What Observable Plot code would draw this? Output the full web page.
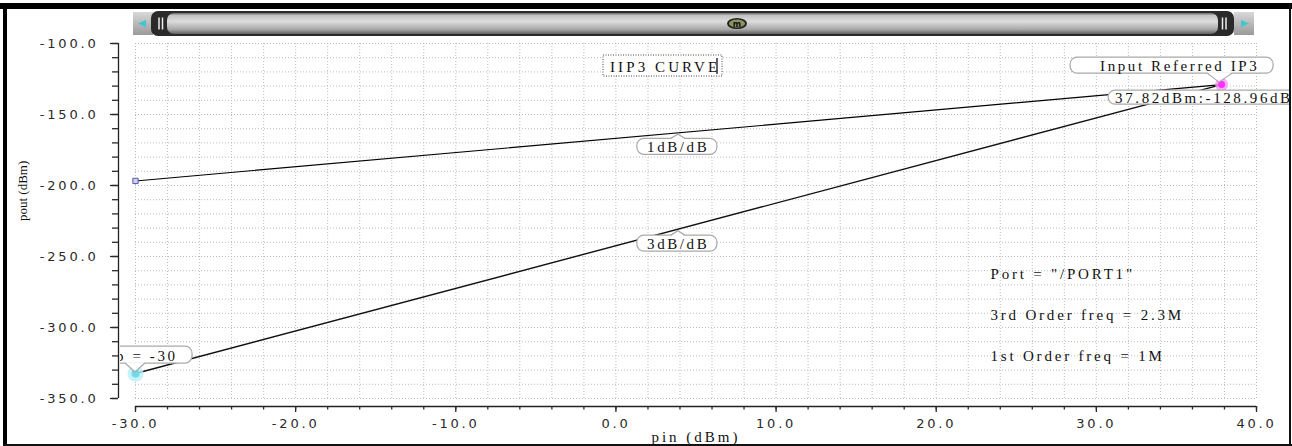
<!DOCTYPE html>
<html><head><meta charset="utf-8">
<script src="https://cdn.jsdelivr.net/npm/d3@7"></script>
<script src="https://cdn.jsdelivr.net/npm/@observablehq/plot@0.6"></script>
<style>
html,body{margin:0;padding:0;background:#fff;}
#chart{position:relative;width:1292px;height:446px;overflow:hidden;}
</style></head><body><div id="chart"></div>
<script>
// ---- data ----
const pinDbm  = [-30, 37.82];          // input power (dBm)
const pout1st = [-196.78, -128.96];    // 1st order output (1 dB/dB)
const pout3rd = [-332.42, -128.96];    // 3rd order output (3 dB/dB)
const ip3Pin = 37.82, ip3Pout = -128.96;
const xTicks = [-30, -20, -10, 0, 10, 20, 30, 40];
const xTickLabels = ["-30.0", "-20.0", "-10.0", "0.0", "10.0", "20.0", "30.0", "40.0"];
const yTicks = [-350, -300, -250, -200, -150, -100];
const yTickLabels = ["-350.0", "-300.0", "-250.0", "-200.0", "-150.0", "-100.0"];
const notes = ["Port = \"/PORT1\"", "3rd Order freq = 2.3M", "1st Order freq = 1M"];
const chartTitle = "IIP3 CURVE";
const xLabel = "pin (dBm)", yLabel = "pout (dBm)";

const xMinor = d3.range(-30, 40.001, 2);
const yMinor = d3.range(-350, -99.999, 10);
const interp = (xs, ys, x) => ys[0] + (ys[1] - ys[0]) * (x - xs[0]) / (xs[1] - xs[0]);
const slopeLabelX = 3.9;
const SERIF = "Liberation Serif";

const callouts = [
  {text: "1dB/dB", ax: slopeLabelX, ay: interp(pinDbm, pout1st, slopeLabelX), box: [-41, 6, 80, 16], ptr: "up"},
  {text: "3dB/dB", ax: slopeLabelX, ay: interp(pinDbm, pout3rd, slopeLabelX), box: [-41, 6.5, 80, 16], ptr: "up"},
  {text: "Input Referred IP3", ax: ip3Pin, ay: ip3Pout, box: [-151, -27, 203, 16], ptr: "down", pb: [-14, 11], pa: [-2, -2], anchor: "start", tdx: 30},
  {text: `${ip3Pin.toFixed(2)}dBm:${ip3Pout.toFixed(2)}dBm`, ax: ip3Pin, ay: ip3Pout, box: [-113, 6, 200, 14], ptr: null, anchor: "start", tdx: 7},
  {text: `p = ${pinDbm[0]}`, ax: pinDbm[0], ay: pout3rd[0], box: [-40, -27, 97, 17], ptr: "down", pb: [-10, 10], pa: [0, -1], anchor: "start", tdx: 21}
];

function calloutMark(index, scales, values, dim) {
  const {x, y} = scales;
  const g = d3.create("svg:g").attr("aria-label", "callouts");
  g.append("clipPath").attr("id", "callclip").append("rect")
    .attr("x", dim.marginLeft - 15).attr("y", 0).attr("width", dim.width - dim.marginLeft + 15 - 3).attr("height", dim.height);
  const gg = g.append("g").attr("clip-path", "url(#callclip)");
  for (const c of callouts) {
    const px = x(c.ax), py = y(c.ay);
    const [ox, oy, bw, bh] = c.box;
    const bx = px + ox, by = py + oy;
    gg.append("rect").attr("x", bx).attr("y", by).attr("width", bw).attr("height", bh)
      .attr("rx", 7).attr("fill", "white").attr("stroke", "#a9a9a9").attr("stroke-width", 1.2);
    let pts = null;
    if (c.ptr === "up") pts = [[px - 7, by], [px, py + 2], [px + 7, by]];
    if (c.ptr === "down") pts = [[px + c.pb[0], by + bh], [px + c.pa[0], py + c.pa[1]], [px + c.pb[1], by + bh]];
    if (pts) {
      gg.append("polygon").attr("points", pts.map(p => p.join(",")).join(" ")).attr("fill", "white").attr("stroke", "none")
        .attr("transform", c.ptr === "up" ? "translate(0,0.8)" : "translate(0,-0.8)");
      gg.append("polyline").attr("points", pts.map(p => p.join(",")).join(" ")).attr("fill", "none").attr("stroke", "#a9a9a9").attr("stroke-width", 1.2);
    }
    gg.append("text")
      .attr("x", c.anchor === "start" ? bx + c.tdx : bx + bw / 2 + 1.3)
      .attr("y", by + bh / 2 + 1)
      .attr("text-anchor", c.anchor === "start" ? "start" : "middle")
      .attr("dominant-baseline", "central")
      .attr("font-family", SERIF).attr("font-size", 15).attr("fill", "#111")
      .style("letter-spacing", "2.6px")
      .text(c.text);
  }
  // title box
  const tx = dim.marginLeft + 468, ty = dim.marginTop + 12;
  g.append("rect").attr("x", tx).attr("y", ty).attr("width", 119).attr("height", 21)
    .attr("fill", "white").attr("stroke", "#444").attr("stroke-dasharray", "1,1.5");
  g.append("text").attr("x", tx + 7).attr("y", ty + 11.5).attr("text-anchor", "start").attr("dominant-baseline", "central")
    .attr("font-family", SERIF).attr("font-size", 15).attr("fill", "#111")
    .style("letter-spacing", "3.1px").text(chartTitle);
  g.append("line").attr("x1", tx + 114).attr("x2", tx + 114).attr("y1", ty + 3).attr("y2", ty + 19).attr("stroke", "#111").attr("stroke-width", 1.3);
  return g.node();
}

function chromeMark(index, scales, values, dim) {
  const W = dim.width, H = dim.height;
  const g = d3.create("svg:g").attr("aria-label", "chrome");
  const defs = g.append("defs");
  const gb = defs.append("linearGradient").attr("id", "barGrad").attr("x1", 0).attr("x2", 0).attr("y1", 0).attr("y2", 1);
  [[0, "#6a6a6a"], [0.12, "#c4c4c4"], [0.4, "#dcdcdc"], [0.78, "#a8a8a8"], [1, "#606060"]].forEach(([o, c]) => gb.append("stop").attr("offset", o).attr("stop-color", c));
  const gbt = defs.append("linearGradient").attr("id", "btnGrad").attr("x1", 0).attr("x2", 0).attr("y1", 0).attr("y2", 1);
  [[0, "#d8d8d8"], [1, "#9a9a9a"]].forEach(([o, c]) => gbt.append("stop").attr("offset", o).attr("stop-color", c));
  const L = dim.marginLeft - 2, R = W - dim.marginRight - 2;
  const y0 = 11, h = 25, cy = y0 + h / 2;
  g.append("rect").attr("x", L).attr("y", y0 + 1).attr("width", 20).attr("height", h - 2).attr("fill", "url(#btnGrad)");
  g.append("rect").attr("x", R - 20).attr("y", y0 + 1).attr("width", 20).attr("height", h - 2).attr("fill", "url(#btnGrad)");
  g.append("rect").attr("x", L + 18).attr("y", y0).attr("width", R - L - 38).attr("height", h).attr("rx", 7).attr("fill", "#2a2a2a");
  g.append("rect").attr("x", L + 34).attr("y", y0 + 2).attr("width", R - L - 70).attr("height", h - 4).attr("rx", 7).attr("fill", "url(#barGrad)");
  g.append("polygon").attr("points", `${L + 5},${cy} ${L + 13},${cy - 3.5} ${L + 13},${cy + 3.5}`).attr("fill", "#3cc8d0");
  g.append("polygon").attr("points", `${R - 5},${cy} ${R - 13},${cy - 3.5} ${R - 13},${cy + 3.5}`).attr("fill", "#3cc8d0");
  for (const gx of [L + 26, L + 29.5, R - 31.5, R - 28]) {
    g.append("line").attr("x1", gx).attr("x2", gx).attr("y1", cy - 6).attr("y2", cy + 6).attr("stroke", "#eee").attr("stroke-width", 1.5);
  }
  const mx = dim.marginLeft + 602;
  g.append("ellipse").attr("cx", mx).attr("cy", cy).attr("rx", 10).attr("ry", 5.5).attr("fill", "#23231a");
  g.append("ellipse").attr("cx", mx).attr("cy", cy).attr("rx", 8).attr("ry", 4).attr("fill", "#8c9466");
  g.append("text").attr("x", mx).attr("y", cy + 0.5).attr("text-anchor", "middle").attr("dominant-baseline", "central")
    .attr("font-family", "DejaVu Sans").attr("font-size", 8).attr("font-weight", "bold").attr("fill", "#111").text("m");
  // border
  g.append("rect").attr("x", 0).attr("y", 3).attr("width", W).attr("height", 6).attr("fill", "#000");
  g.append("rect").attr("x", 3).attr("y", 3).attr("width", 4).attr("height", H - 3).attr("fill", "#000");
  g.append("rect").attr("x", 3).attr("y", H - 2).attr("width", W - 3).attr("height", 2).attr("fill", "#111");
  g.append("rect").attr("x", W - 3).attr("y", 3).attr("width", 2).attr("height", H - 3).attr("fill", "#111");
  return g.node();
}

const gridStyle = {stroke: "#b0b0b0", strokeDasharray: "1,2", strokeOpacity: 0.85, strokeWidth: 1};

const plot = Plot.plot({
  width: 1292, height: 446,
  marginLeft: 135, marginRight: 36, marginTop: 43, marginBottom: 48,
  style: {fontFamily: "DejaVu Sans", fontSize: "13px", color: "#2a2a2a", background: "white", overflow: "visible"},
  x: {domain: [-30, 40]},
  y: {domain: [-350, -100]},
  marks: [
    Plot.ruleX(xMinor, gridStyle),
    Plot.ruleY(yMinor, gridStyle),
    Plot.ruleX([-30], {dx: -17, stroke: "#222", strokeWidth: 1.3}),
    Plot.ruleY([-350], {dy: 8, stroke: "#222", strokeWidth: 1.3}),
    Plot.axisY({ticks: yTicks, tickSize: 8, dx: -17, tickPadding: 12, tickFormat: d => yTickLabels[yTicks.indexOf(d)], label: null, strokeWidth: 1.3}),
    Plot.axisY({ticks: yMinor, tickSize: 6, dx: -17, text: null, label: null, strokeWidth: 1.3}),
    Plot.axisX({ticks: xTicks, tickSize: 6, dy: 8, tickPadding: 6, tickFormat: d => xTickLabels[xTicks.indexOf(d)], label: null, strokeWidth: 1.3}),
    Plot.axisX({ticks: xMinor, tickSize: 3.5, dy: 8, text: null, label: null, strokeWidth: 1.3}),
    Plot.text([xLabel], {frameAnchor: "bottom", dy: 39, fontFamily: SERIF, fontSize: 15, fill: "#111", lineAnchor: "middle"}),
    Plot.text([yLabel], {frameAnchor: "left", dx: -113, rotate: -90, fontFamily: SERIF, fontSize: 13, fill: "#111"}),
    Plot.line(pinDbm.map((p, i) => ({pin: p, pout: pout1st[i]})), {x: "pin", y: "pout", stroke: "#000", strokeWidth: 1.1}),
    Plot.line(pinDbm.map((p, i) => ({pin: p, pout: pout3rd[i]})), {x: "pin", y: "pout", stroke: "#111", strokeWidth: 1.4}),
    Plot.dot([{pin: pinDbm[0], pout: pout1st[0]}], {x: "pin", y: "pout", symbol: "square", r: 3, stroke: "#5a5aa8", fill: "#cfcff0", strokeWidth: 1}),
    Plot.dot([{pin: pinDbm[0], pout: pout3rd[0]}], {x: "pin", y: "pout", r: 8, fill: "#b8f0f6", fillOpacity: 0.8}),
    Plot.dot([{pin: pinDbm[0], pout: pout3rd[0]}], {x: "pin", y: "pout", r: 4, fill: "#70dbe8"}),
    Plot.dot([{pin: ip3Pin, pout: ip3Pout}], {x: "pin", y: "pout", r: 6.5, fill: "#f49af4", fillOpacity: 0.8}),
    Plot.dot([{pin: ip3Pin, pout: ip3Pout}], {x: "pin", y: "pout", r: 3.5, fill: "#ff30ff"}),
    calloutMark,
    ...notes.map((t, i) => Plot.text([t], {frameAnchor: "top-left", dx: 855, dy: 231 + 41 * i, textAnchor: "start", lineAnchor: "middle", fontFamily: SERIF, fontSize: 15, fill: "#111"})),
    chromeMark
  ]
});
const sel = d3.select(plot);
sel.selectAll('g[aria-label="x-axis tick label"] text, g[aria-label="y-axis tick label"] text').style("letter-spacing", "2.8px");
sel.selectAll('g[aria-label="text"] text').each(function() {
  const t = this.textContent;
  if (notes.includes(t)) this.style.letterSpacing = "2.8px";
  else if (t === xLabel) this.style.letterSpacing = "3px";
});
document.getElementById("chart").appendChild(plot);
</script>
</body></html>
